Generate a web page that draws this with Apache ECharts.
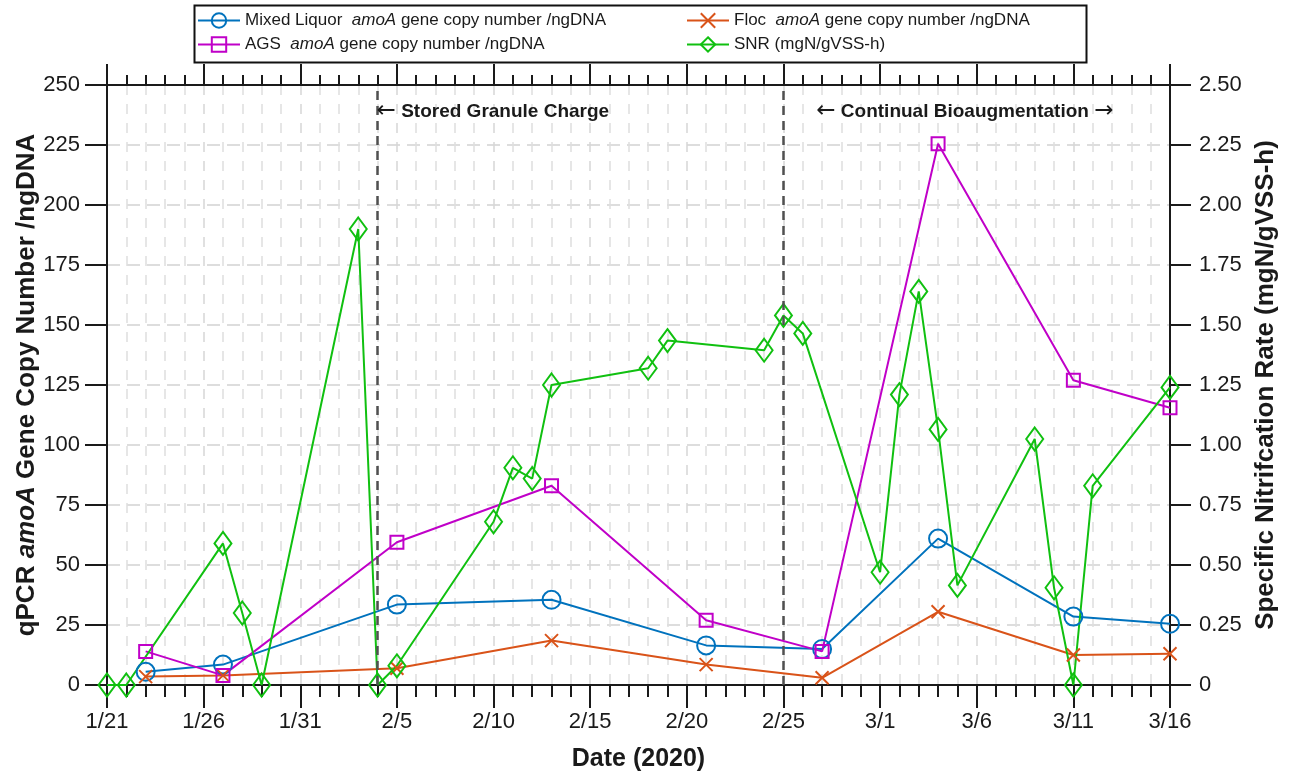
<!DOCTYPE html>
<html><head><meta charset="utf-8">
<script src="https://cdn.jsdelivr.net/npm/echarts/dist/echarts.min.js"></script>
<style>html,body{margin:0;padding:0;background:#fff}#c{width:1289px;height:776px}</style>
</head><body><div id="c"></div>
<script>
// ---- data ----
const xTickLabels = ['1/21','1/26','1/31','2/5','2/10','2/15','2/20','2/25','3/1','3/6','3/11','3/16'];
const qpcrDates = ['1/23','1/27','2/5','2/13','2/21','2/27','3/4','3/11','3/16'];
const mixedLiquor = [5.5, 8.5, 33.5, 35.5, 16.5, 15, 61, 28.5, 25.5];
const floc = [3.5, 4, 7, 18.5, 8.5, 3, 30.5, 12.5, 13];
const ags = [14, 4, 59.5, 83, 27, 14, 225.5, 127, 115.5];
const snrDates = ['1/21','1/22','1/27','1/28','1/29','2/3','2/4','2/5','2/10','2/11','2/12','2/13','2/18','2/19','2/24','2/25','2/26','3/1','3/2','3/3','3/4','3/5','3/9','3/10','3/11','3/12','3/16'];
const snr = [0, 0, 0.59, 0.30, 0, 1.90, 0, 0.08, 0.68, 0.905, 0.86, 1.25, 1.32, 1.435, 1.395, 1.54, 1.465, 0.47, 1.21, 1.64, 1.065, 0.415, 1.025, 0.405, 0, 0.83, 1.24];
const phaseDates = ['2/4', '2/25'];
const annotations = [['\u2190', ' Stored Granule Charge', ''], ['\u2190', ' Continual Bioaugmentation ', '\u2192']];

// ---- helpers ----
const BASE = Date.UTC(2020, 0, 21);
function toDay(s) { const [m, d] = s.split('/').map(Number); return (Date.UTC(2020, m - 1, d) - BASE) / 86400000; }
const FONT = "'Liberation Sans', Arial, Helvetica, sans-serif";
const INK = '#1a1a1a';
const C_ML = '#0072BD', C_FL = '#D95319', C_AGS = '#C000C8', C_SNR = '#10C010';

const names = {
  ml: 'Mixed Liquor  amoA gene copy number /ngDNA',
  fl: 'Floc  amoA gene copy number /ngDNA',
  ags: 'AGS  amoA gene copy number /ngDNA',
  snr: 'SNR (mgN/gVSS-h)'
};
function legendFmt(n) {
  const i = n.indexOf('amoA');
  if (i < 0) return '{n|' + n + '}';
  return '{n|' + n.slice(0, i) + '}{i|amoA}{n|' + n.slice(i + 4) + '}';
}
const legendRich = { n: { fontSize: 17, fontFamily: FONT, color: INK }, i: { fontSize: 17, fontFamily: FONT, fontStyle: 'italic', color: INK } };

function mk(name, color, dates, vals, symbol, size, yIdx, extra) {
  return Object.assign({
    name, type: 'line', yAxisIndex: yIdx,
    data: dates.map((d, i) => [toDay(d), vals[i]]),
    symbol, symbolSize: size, showAllSymbol: true,
    lineStyle: { color, width: 2 },
    itemStyle: { color: 'rgba(255,255,255,0)', borderColor: color, borderWidth: 2 },
    emphasis: { disabled: true }, animation: false
  }, extra || {});
}

const chart = echarts.init(document.getElementById('c'), null, { renderer: 'canvas' });
const xCommon = { type: 'value', min: 0, max: 55, interval: 5, minorTick: { show: true, splitNumber: 5 } };
const legendCommon = { orient: 'vertical', top: 6, itemWidth: 42, itemHeight: 18, itemGap: 5,
  formatter: legendFmt, textStyle: { rich: legendRich, fontSize: 17, lineHeight: 19 }, selectedMode: false };
const option = {
  backgroundColor: '#fff',
  animation: false,
  grid: { left: 107, right: 119, top: 85, bottom: 91, containLabel: false, outerBoundsMode: 'none' },
  legend: [
    Object.assign({ data: [names.ml, names.ags], left: 192 }, legendCommon),
    Object.assign({ data: [names.fl, names.snr], left: 681 }, legendCommon)
  ],
  xAxis: [
    Object.assign({}, xCommon, {
      position: 'bottom',
      name: 'Date (2020)', nameLocation: 'middle', nameGap: 62,
      nameTextStyle: { fontSize: 25, fontWeight: 'bold', fontFamily: FONT, color: INK },
      axisLine: { show: true, onZero: false, lineStyle: { color: INK, width: 2 } },
      axisTick: { length: 23, lineStyle: { color: INK, width: 2 } },
      minorTick: { show: true, splitNumber: 5, length: 12, lineStyle: { color: INK, width: 2 } },
      axisLabel: { margin: 26, fontSize: 22, fontFamily: FONT, color: INK, formatter: v => xTickLabels[Math.round(v / 5)] },
      splitLine: { show: true, lineStyle: { color: '#d6d6d6', width: 1.5, type: [10, 9] } },
      minorSplitLine: { show: true, lineStyle: { color: '#dedede', width: 1.5, type: [10, 9] } }
    }),
    Object.assign({}, xCommon, {
      position: 'top',
      axisLine: { show: true, onZero: false, lineStyle: { color: INK, width: 2 } },
      axisTick: { length: 21, lineStyle: { color: INK, width: 2 } },
      minorTick: { show: true, splitNumber: 5, length: 10, lineStyle: { color: INK, width: 2 } },
      axisLabel: { show: false }, splitLine: { show: false }
    })
  ],
  yAxis: [
    {
      type: 'value', min: 0, max: 250, interval: 25, position: 'left',
      name: '{b|qPCR }{i|amoA}{b| Gene Copy Number /ngDNA}', nameLocation: 'middle', nameGap: 67, nameMoveOverlap: false,
      nameTextStyle: { rich: {
        b: { fontSize: 26, fontWeight: 'bold', fontFamily: FONT, color: INK },
        i: { fontSize: 26, fontWeight: 'bold', fontStyle: 'italic', fontFamily: FONT, color: INK } } },
      axisLine: { show: true, onZero: false, lineStyle: { color: INK, width: 2 } },
      axisTick: { length: 22, lineStyle: { color: INK, width: 2 } },
      axisLabel: { margin: 27, fontSize: 22, fontFamily: FONT, color: INK },
      splitLine: { show: true, lineStyle: { color: '#d2d2d2', width: 1.5, type: [13, 7] } }
    },
    {
      type: 'value', min: 0, max: 2.5, interval: 0.25, position: 'right',
      name: 'Specific Nitrifcation Rate (mgN/gVSS-h)', nameLocation: 'middle', nameGap: 80,
      nameTextStyle: { fontSize: 26, fontWeight: 'bold', fontFamily: FONT, color: INK },
      axisLine: { show: true, onZero: false, lineStyle: { color: INK, width: 2 } },
      axisTick: { length: 21, lineStyle: { color: INK, width: 2 } },
      axisLabel: { margin: 29, fontSize: 22, fontFamily: FONT, color: INK, formatter: v => v === 0 ? '0' : v.toFixed(2) },
      splitLine: { show: false }
    }
  ],
  series: [
    mk(names.ml, C_ML, qpcrDates, mixedLiquor, 'circle', 18, 0, {
      markLine: { silent: true, symbol: 'none', label: { show: false },
        lineStyle: { color: '#505050', width: 2.5, type: [9, 6] },
        data: phaseDates.map(d => ({ xAxis: toDay(d) })) }
    }),
    mk(names.fl, C_FL, qpcrDates, floc, 'path://M0,0L10,10M10,0L0,10', 13, 0),
    mk(names.ags, C_AGS, qpcrDates, ags, 'rect', 13, 0),
    mk(names.snr, C_SNR, snrDates, snr, 'diamond', [17, 23], 1)
  ]
};
chart.setOption(option);

// annotations placed in data coordinates, plus legend frame
const annotPos = [[toDay(phaseDates[0]) - 0.05, 239], [toDay(phaseDates[1]) + 1.7, 239]];
const els = annotations.map((parts, i) => {
  const p = chart.convertToPixel({ xAxisIndex: 0, yAxisIndex: 0 }, annotPos[i]);
  return { id: 'annot' + i, type: 'text', x: p[0], y: p[1], z: 50,
    style: { text: '{a|' + parts[0] + '}{t|' + parts[1] + '}' + (parts[2] ? '{a|' + parts[2] + '}' : ''),
      rich: { a: { fontSize: 23, fontFamily: "'DejaVu Sans', sans-serif", fill: INK },
              t: { fontSize: 19, fontWeight: 'bold', fontFamily: FONT, fill: INK } },
      textAlign: 'left', textVerticalAlign: 'middle' } };
});
els.push({ id: 'legendFrame', type: 'rect', left: 192, top: 3, z: 100, silent: true,
  shape: { width: 892, height: 57 }, style: { fill: null, stroke: '#111', lineWidth: 2 } });
chart.setOption({ graphic: { elements: els } });
</script>
</body></html>
